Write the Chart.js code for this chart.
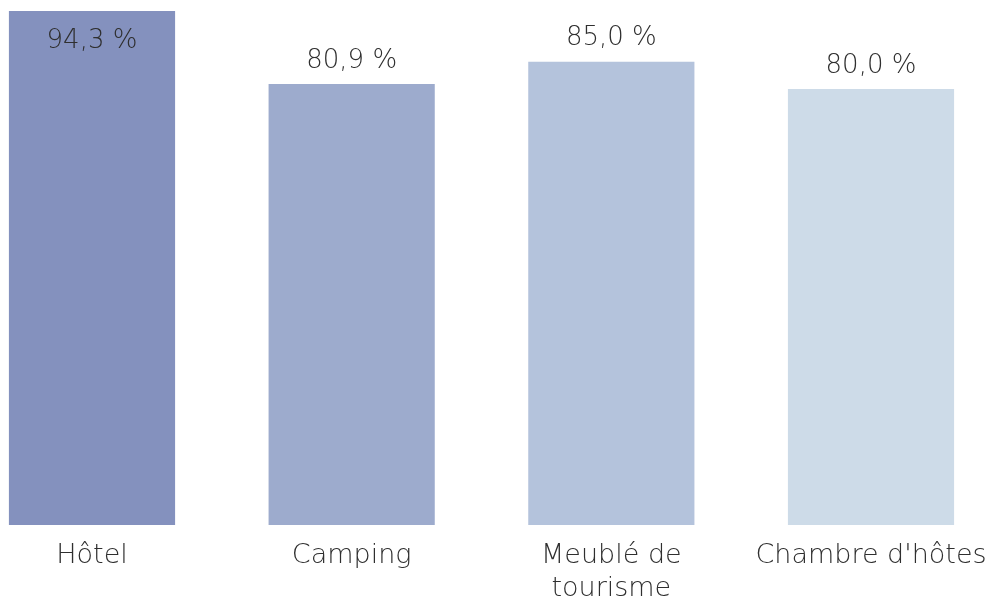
<!DOCTYPE html>
<html>
<head>
<meta charset="utf-8">
<script src="https://cdn.jsdelivr.net/npm/chart.js@4"></script>
<style>
  html, body { margin: 0; padding: 0; background: #fff; }
  #wrap { width: 994px; height: 603px; }
</style>
</head>
<body>
<div id="wrap"><canvas id="hebergementChart"></canvas></div>
<script>
// data
const categories = ['Hôtel', 'Camping', ['Meublé de', 'tourisme'], "Chambre d'hôtes"];
const values = [94.3, 80.9, 85.0, 80.0];
const barColors = ['#8491be', '#9dabcd', '#b4c3dc', '#cddbe8'];

const textColor = '#2f2f2f';
const fontFamily = "'DejaVu Sans', sans-serif";
const fontWeight = 200;

// draws "94,3 %" style labels above each bar (inside when there is no room)
const valueLabels = {
    id: 'valueLabels',
    afterDatasetsDraw(chart) {
        const ctx = chart.ctx;
        const meta = chart.getDatasetMeta(0);
        ctx.save();
        ctx.font = fontWeight + ' 26px ' + fontFamily;
        ctx.fillStyle = textColor;
        ctx.textAlign = 'center';
        ctx.textBaseline = 'middle';
        meta.data.forEach((bar, i) => {
            const txt = values[i].toFixed(1).replace('.', ',') + ' %';
            let y = bar.y - 23;
            if (y - 13 < 0) {
                y = bar.y + 30;
            }
            ctx.fillText(txt, bar.x, y);
        });
        ctx.restore();
    }
};

document.addEventListener('DOMContentLoaded', () => {
    const ctx = document.getElementById('hebergementChart').getContext('2d');
    new Chart(ctx, {
        type: 'bar',
        data: {
            labels: categories,
            datasets: [{
                data: values,
                backgroundColor: barColors,
                borderWidth: 0,
                barPercentage: 0.64,
                categoryPercentage: 1,
                clip: false
            }]
        },
        options: {
            responsive: true,
            maintainAspectRatio: false,
            animation: false,
            layout: {
                padding: { top: 11, left: 92, right: 123, bottom: 0 }
            },
            plugins: {
                legend: { display: false },
                tooltip: { enabled: false }
            },
            scales: {
                x: {
                    offset: false,
                    grid: { display: false, drawTicks: false },
                    border: { display: false },
                    ticks: {
                        padding: 15,
                        color: textColor,
                        font: { family: fontFamily, size: 27, weight: fontWeight, lineHeight: 1.2 },
                        maxRotation: 0,
                        autoSkip: false
                    },
                    afterFit(scale) {
                        scale.height = 78;
                        // labels may overflow into the layout padding
                        scale.paddingLeft = 0;
                        scale.paddingRight = 0;
                    }
                },
                y: {
                    display: false,
                    min: 0,
                    max: Math.max(...values)
                }
            }
        },
        plugins: [valueLabels]
    });
});
</script>
</body>
</html>
